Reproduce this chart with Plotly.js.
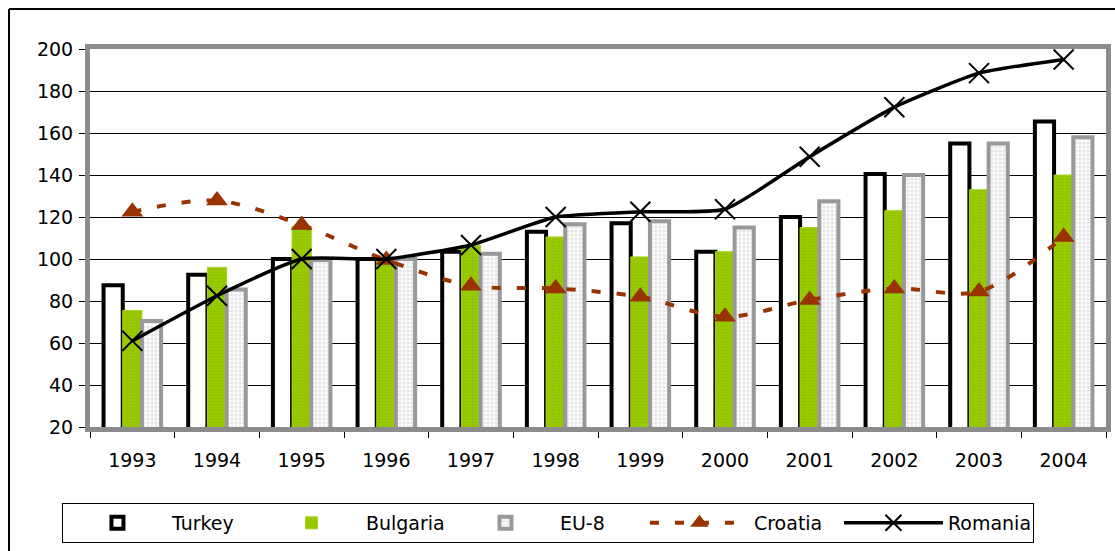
<!DOCTYPE html>
<html>
<head>
<meta charset="utf-8">
<script src="https://cdn.plot.ly/plotly-3.0.1.min.js"></script>
<style>html,body{margin:0;padding:0;background:#fff;}#chart{width:1115px;height:551px;}</style>
</head>
<body>
<div id="chart"></div>
<script>
const years = ['1993','1994','1995','1996','1997','1998','1999','2000','2001','2002','2003','2004'];
const turkey   = [87.5, 92.5, 100, 100, 103.5, 113, 117, 103.5, 120, 140.5, 155, 165.5];
const bulgaria = [75.5, 96, 115.5, 100, 106.5, 110.5, 101, 103.5, 115, 123, 133, 140];
const eu8      = [70.5, 85.5, 99.5, 100, 102.5, 116.5, 118, 115, 127.5, 140, 155, 158];
const croatia  = [122.5, 127.8, 116.2, 99.5, 87.3, 86, 82, 72.5, 80.5, 86, 84.5, 110.5];
const romania  = [61, 82.5, 100, 100, 106.7, 120, 122.5, 123.7, 148.7, 172.3, 188.5, 195];
const yTicks   = [20, 40, 60, 80, 100, 120, 140, 160, 180, 200];

const fontFam = 'DejaVu Sans, sans-serif';

const traces = [
  {type:'bar', name:'Turkey', x:years, y:turkey,
   marker:{color:'#ffffff', line:{color:'#000000', width:4}}},
  {type:'bar', name:'Bulgaria', x:years, y:bulgaria,
   marker:{color:'#99cc00', line:{color:'#a6d41a', width:1},
           pattern:{shape:'.', fgcolor:'#8fbf00', bgcolor:'#99cc00', size:3, solidity:0.3}}},
  {type:'bar', name:'EU-8', x:years, y:eu8,
   marker:{color:'#ffffff', line:{color:'#999999', width:4},
           pattern:{shape:'+', fgcolor:'#c8c8c8', bgcolor:'#ffffff', size:4, solidity:0.25}}},
  {type:'scatter', mode:'lines+markers', name:'Croatia', x:years, y:croatia,
   line:{color:'#993300', width:4, dash:'9px,16px', shape:'spline', smoothing:0.9},
   marker:{symbol:'triangle-up', size:19, color:'#993300'}},
  {type:'scatter', mode:'lines+markers', name:'Romania', x:years, y:romania,
   line:{color:'#000000', width:3.5, shape:'spline', smoothing:0.5},
   marker:{symbol:'x-thin', size:20, color:'#000000', line:{color:'#000000', width:2}}}
];

const layout = {
  width:1115, height:551,
  margin:{l:90, r:9, t:49, b:124, autoexpand:false},
  paper_bgcolor:'#ffffff', plot_bgcolor:'#ffffff',
  font:{family:fontFam, size:19, color:'#000000'},
  barmode:'group', bargap:0.32, bargroupgap:0,
  showlegend:true,
  legend:{orientation:'h', x:-0.0276, xanchor:'left', y:-0.201, yanchor:'top',
          bordercolor:'#000000', borderwidth:1, bgcolor:'#ffffff',
          font:{family:fontFam, size:19, color:'#000000'},
          entrywidth:80, entrywidthmode:'pixels', itemwidth:99, traceorder:'normal'},
  xaxis:{type:'category', range:[-0.5, 11.5], autorange:false, showgrid:false, zeroline:false,
         showline:true, linecolor:'#8c8c8c', linewidth:5, mirror:true,
         ticks:'outside', tickson:'boundaries', ticklen:6, tickcolor:'#000000', tickwidth:1,
         ticklabelstandoff:12, tickfont:{family:fontFam, size:19, color:'#000000'}},
  yaxis:{range:[20,200], autorange:false, tickvals:yTicks, showgrid:true, gridcolor:'#000000', gridwidth:1,
         zeroline:false, showline:true, linecolor:'#8c8c8c', linewidth:5, mirror:true,
         ticks:'outside', ticklen:6, tickcolor:'#000000', tickwidth:1,
         ticklabelstandoff:2, tickfont:{family:fontFam, size:19, color:'#000000'}},
  shapes:[
    {type:'line', xref:'paper', yref:'paper', x0:-0.0797, x1:-0.0797, y0:-0.40, y1:1.1058,
     line:{color:'#000000', width:2}},
    {type:'line', xref:'paper', yref:'paper', x0:-0.0797, x1:1.05, y0:1.1058, y1:1.1058,
     line:{color:'#000000', width:2}}
  ]
};

Plotly.newPlot('chart', traces, layout, {displayModeBar:false, staticPlot:true});
</script>
</body>
</html>
